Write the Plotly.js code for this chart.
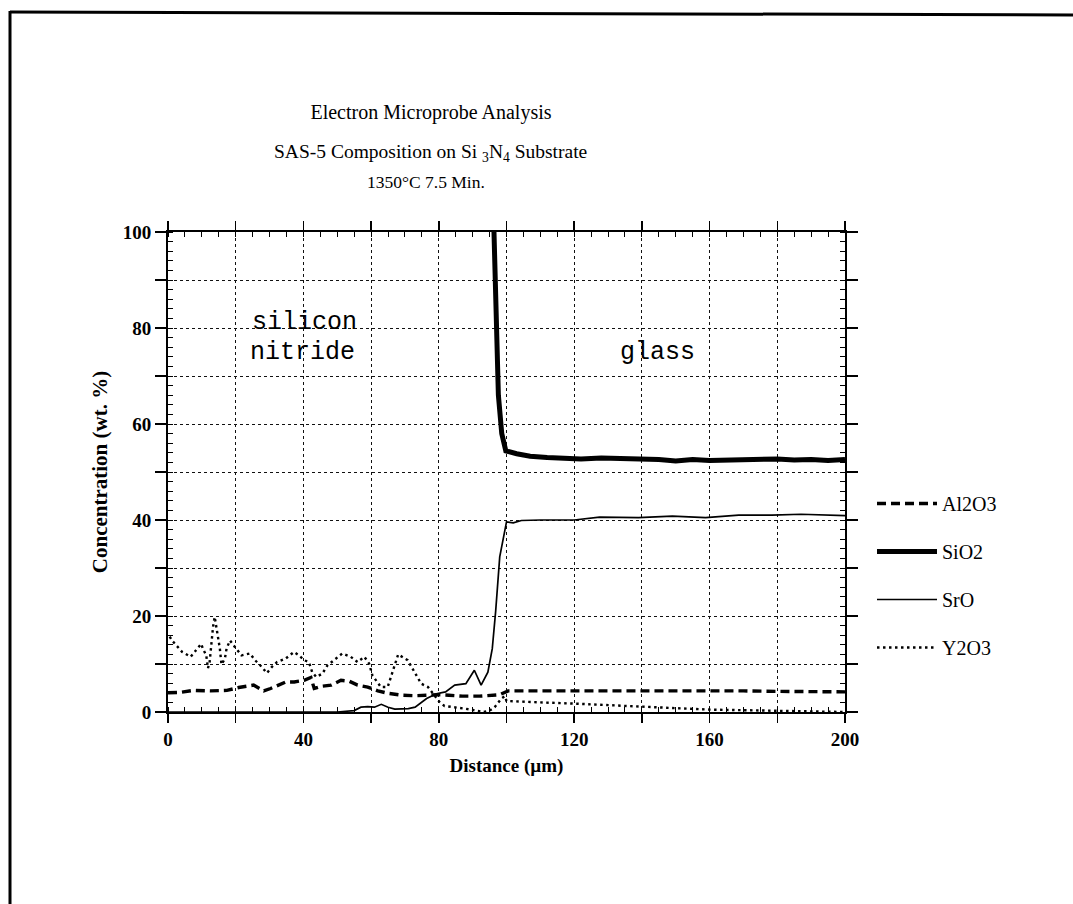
<!DOCTYPE html>
<html>
<head>
<meta charset="utf-8">
<script src="https://cdn.plot.ly/plotly-3.0.1.min.js"></script>
<style>html,body{margin:0;padding:0;background:#fff}#chart{width:1073px;height:904px}</style>
</head>
<body>
<div id="chart"></div>
<script>
// Al2O3 (dashed)
var al2o3X = [0, 3.6, 7.5, 12.5, 17.4, 20.9, 25.3, 28.3, 30.3, 32.8, 34.8, 37.3, 40.2, 42.2, 43.2, 45.2, 48.2, 51.1, 53.6, 56, 59, 62, 65, 69, 73, 77, 80, 83, 87, 92, 96, 98, 100.5, 110, 120, 130, 140, 150, 160, 170, 180, 190, 200];
var al2o3Y = [4.0, 4.1, 4.5, 4.4, 4.5, 5.1, 5.6, 4.4, 4.9, 5.6, 6.25, 6.25, 6.6, 7.2, 4.9, 5.35, 5.6, 6.6, 6.4, 5.6, 5.2, 4.4, 3.9, 3.5, 3.4, 3.5, 3.6, 3.5, 3.3, 3.3, 3.4, 3.6, 4.4, 4.4, 4.5, 4.4, 4.5, 4.5, 4.4, 4.4, 4.3, 4.3, 4.2];
// SiO2 (thick solid)
var sio2X = [96.3, 96.8, 97.6, 98.6, 99.8, 103, 107, 112, 117, 122, 128, 134, 140, 145, 150, 155, 160, 165, 170, 175, 180, 185, 190, 195, 200];
var sio2Y = [100, 86, 66, 58, 54.4, 53.8, 53.3, 53.0, 52.9, 52.7, 52.9, 52.8, 52.9, 52.6, 52.3, 52.6, 52.4, 52.5, 52.4, 52.6, 52.7, 52.5, 52.6, 52.4, 52.6];
// SrO (thin solid)
var sroX = [0, 50, 55, 57, 59, 61, 63, 65, 67, 71, 73, 76.4, 79.3, 82, 84.7, 88, 90.5, 92.5, 94.5, 95.8, 96.8, 98, 100, 102, 104.4, 110, 120, 127.5, 139, 149, 158.8, 168.6, 178.4, 187, 200];
var sroY = [0, 0, 0.3, 1.0, 1.1, 1.0, 1.6, 1.0, 0.6, 0.7, 1.0, 2.8, 3.8, 4.2, 5.6, 5.9, 8.7, 5.6, 8.3, 13.2, 21, 32.3, 39.6, 39.4, 39.9, 40, 40, 40.6, 40.5, 40.8, 40.5, 41, 41, 41.2, 40.9];
// Y2O3 (dotted)
var y2o3X = [0.5, 1.2, 4.2, 6.7, 9.8, 10.3, 11.3, 11.8, 12.3, 12.8, 13.3, 13.8, 14.8, 15.3, 15.8, 16.8, 17.3, 18.3, 19.8, 21.7, 24.2, 25.7, 27.7, 29.2, 30.7, 32.2, 34.7, 37.2, 38.7, 40.2, 41.6, 42.6, 43.8, 45.6, 47.1, 49.1, 51.5, 54, 56, 58, 59.4, 60.4, 62.9, 64.9, 66.9, 68, 70.8, 72.8, 74.8, 76.8, 78.7, 80.2, 81.7, 84.7, 87.6, 90.6, 93.1, 95, 96.5, 98.5, 99.5, 100, 105, 110, 120, 130, 140, 150, 160, 170, 180, 190, 200];
var y2o3Y = [15.7, 14.9, 12.5, 11.5, 14.2, 13.2, 11.8, 9.1, 10.4, 14.2, 17.7, 19.8, 15.6, 13.3, 9.9, 11.1, 13.2, 14.9, 13.5, 11.8, 12.2, 10.8, 9.4, 8.1, 9.4, 10.4, 11.1, 12.5, 11.8, 10.8, 10.4, 8.3, 7.3, 8.0, 9.7, 10.8, 12.2, 11.5, 10.4, 11.5, 10.1, 7.6, 5.2, 5.2, 9.4, 12.0, 10.8, 8.3, 5.9, 5.2, 3.5, 2.1, 1.25, 1.0, 0.7, 0.35, 0.0, 0.3, 1.0, 2.8, 3.3, 2.3, 2.1, 2.0, 1.75, 1.4, 1.0, 0.8, 0.5, 0.35, 0.2, 0.1, 0.0];

var xTickVals = [0, 20, 40, 60, 80, 100, 120, 140, 160, 180, 200];
var xTickText = ['0', '', '40', '', '80', '', '120', '', '160', '', '200'];
var yTickVals = [0, 10, 20, 30, 40, 50, 60, 70, 80, 90, 100];
var yTickText = ['0', '', '20', '', '40', '', '60', '', '80', '', '100'];

var serif = 'Liberation Serif, Times New Roman, serif';
var mono = 'Liberation Mono, DejaVu Sans Mono, monospace';

var traces = [
  {x: al2o3X, y: al2o3Y, name: 'Al2O3', legendgroup: 'a', mode: 'lines', line: {color: '#000', width: 3.4, dash: '9px,5px'}},
  {x: sio2X, y: sio2Y, name: 'SiO2', legendgroup: 'b', mode: 'lines', line: {color: '#000', width: 5}},
  {x: sroX, y: sroY, name: 'SrO', legendgroup: 'c', mode: 'lines', line: {color: '#000', width: 1.7}},
  {x: y2o3X, y: y2o3Y, name: 'Y2O3', legendgroup: 'd', mode: 'lines', line: {color: '#000', width: 2.4, dash: '2.5px,3.5px'}}
];

var P = function(px){ return (px - 168) / 677; };
var Q = function(py){ return (712 - py) / 480; };

var layout = {
  width: 1073, height: 904,
  margin: {l: 168, r: 228, t: 232, b: 192},
  paper_bgcolor: '#fff', plot_bgcolor: '#fff',
  font: {family: serif, color: '#000', size: 16},
  title: {text: 'Electron Microprobe Analysis', font: {family: serif, size: 20, color: '#000'},
          xref: 'paper', x: P(431), xanchor: 'center', yref: 'container', y: 1 - 112/904, yanchor: 'middle'},
  showlegend: true,
  legend: {x: P(872), xanchor: 'left', y: Q(484), yanchor: 'top', font: {family: serif, size: 20, color: '#000'},
           tracegroupgap: 19, itemwidth: 60, bgcolor: 'rgba(0,0,0,0)'},
  xaxis: {
    range: [0, 200], tickmode: 'array', tickvals: xTickVals, ticktext: xTickText,
    showline: true, linecolor: '#000', linewidth: 2, mirror: 'allticks',
    ticks: 'outside', ticklen: 9, tickwidth: 1.5, tickcolor: '#000',
    showgrid: true, gridcolor: '#111', griddash: 'dot', gridwidth: 1,
    zeroline: false,
    tickfont: {family: serif, size: 19, weight: 'bold', color: '#000'},
    minor: {dtick: 5, ticks: 'inside', ticklen: 5, tickcolor: '#000', tickwidth: 1, showgrid: false},
    title: {text: 'Distance (µm)', font: {family: serif, size: 19, weight: 'bold', color: '#000'}, standoff: 10}
  },
  yaxis: {
    range: [0, 100], tickmode: 'array', tickvals: yTickVals, ticktext: yTickText,
    showline: true, linecolor: '#000', linewidth: 2, mirror: 'allticks',
    ticks: 'outside', ticklen: 11, tickwidth: 1.5, tickcolor: '#000',
    showgrid: true, gridcolor: '#111', griddash: 'dot', gridwidth: 1,
    zeroline: false,
    tickfont: {family: serif, size: 19, weight: 'bold', color: '#000'},
    minor: {dtick: 2, ticks: 'inside', ticklen: 5, tickcolor: '#000', tickwidth: 1, showgrid: false},
    title: {text: 'Concentration (wt. %)', font: {family: serif, size: 21, weight: 'bold', color: '#000'}, standoff: 9}
  },
  annotations: [
    {xref: 'paper', yref: 'paper', x: P(430), y: Q(153), xanchor: 'center', yanchor: 'middle', showarrow: false,
     text: 'SAS-5 Composition on Si <sub>3</sub>N<sub>4</sub> Substrate', font: {family: serif, size: 19.5, color: '#000'}},
    {xref: 'paper', yref: 'paper', x: P(426), y: Q(182), xanchor: 'center', yanchor: 'middle', showarrow: false,
     text: '1350°C 7.5 Min.', font: {family: serif, size: 17.5, color: '#000'}},
    {xref: 'x', yref: 'y', x: 40.4, y: 81.2, xanchor: 'center', yanchor: 'middle', showarrow: false,
     text: 'silicon', font: {family: mono, size: 25, color: '#000'}},
    {xref: 'x', yref: 'y', x: 39.8, y: 74.8, xanchor: 'center', yanchor: 'middle', showarrow: false,
     text: 'nitride', font: {family: mono, size: 25, color: '#000'}},
    {xref: 'x', yref: 'y', x: 144.5, y: 75.0, xanchor: 'center', yanchor: 'middle', showarrow: false,
     text: 'glass', font: {family: mono, size: 25, color: '#000'}}
  ],
  shapes: [
    {type: 'line', xref: 'paper', yref: 'paper', x0: P(10), x1: P(10), y0: Q(11), y1: Q(904), line: {color: '#000', width: 3}},
    {type: 'line', xref: 'paper', yref: 'paper', x0: P(10), x1: P(1073), y0: Q(12), y1: Q(15), line: {color: '#000', width: 3}}
  ]
};

Plotly.newPlot('chart', traces, layout, {displayModeBar: false, staticPlot: true});
</script>
</body>
</html>
